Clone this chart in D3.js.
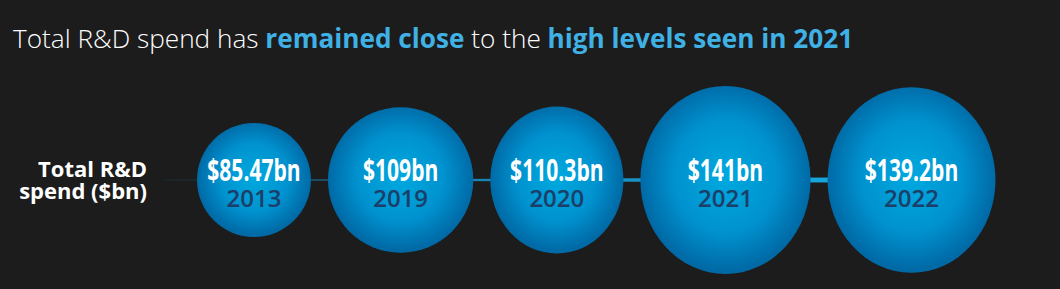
<!DOCTYPE html>
<html>
<head>
<meta charset="utf-8">
<script src="https://cdn.jsdelivr.net/npm/d3@7"></script>
<style>
	html, body { margin:0; padding:0; background:#1c1c1c; }
	svg { display:block; }
</style>
</head>
<body>
<svg id="chart"></svg>
<script>
// data
const years = ['2013','2019','2020','2021','2022'];
const spend = [85.47, 109, 110.3, 141, 139.2]; // $bn
const valueLabels = ['$85.47bn','$109bn','$110.3bn','$141bn','$139.2bn'];
const rowLabel = ['Total R&D','spend ($bn)'];
const titleParts = [
	{text:'Total R&D spend has ', hi:false},
	{text:'remained close', hi:true},
	{text:' to the ', hi:false},
	{text:'high levels seen in 2021', hi:true}
];

// configure chart
const width = 1060;
const height = 289;
const cy = 180; // centre line of the bubbles
const gap = 17; // space between bubbles
const startX = 197;
// the last three bubbles are drawn a little narrow in the original
const stretchX = [1, 1, 0.905, 0.905, 0.905];

const svg = d3.select('#chart').attr('width',width).attr('height',height);
const defs = svg.append('defs');

// bubble fill: bright centre fading to a darker rim
let bubbleGrad = defs.append('radialGradient').attr('id','bubble')
	.attr('cx','50%').attr('cy','48%').attr('r','50%');
bubbleGrad.append('stop').attr('offset','0%').attr('stop-color','#00a9df');
bubbleGrad.append('stop').attr('offset','60%').attr('stop-color','#0092cf');
bubbleGrad.append('stop').attr('offset','100%').attr('stop-color','#006aa6');

// connecting line gets brighter to the right
let lineGrad = defs.append('linearGradient').attr('id','lineGrad')
	.attr('x1','0%').attr('x2','100%');
lineGrad.append('stop').attr('offset','0%').attr('stop-color','#1f3540');
lineGrad.append('stop').attr('offset','35%').attr('stop-color','#1a7fad');
lineGrad.append('stop').attr('offset','100%').attr('stop-color','#16aee6');

// radius scale, proportional to the value
const r = d3.scaleLinear().domain([0, d3.max(spend)]).range([0, 94]);

// lay bubbles out left to right
let bubbles = [];
let x = startX;
spend.forEach((v,i) => {
	let ry = r(v), rx = ry*stretchX[i];
	bubbles.push({year:years[i], value:v, label:valueLabels[i], cx:x+rx, rx:rx, ry:ry});
	x += 2*rx + gap;
});

// title
let title = svg.append('text').attr('x',13).attr('y',48)
	.style('font-family','"Open Sans", sans-serif').style('font-size','26.2px');
title.selectAll('tspan').data(titleParts).enter().append('tspan')
	.attr('fill', d => d.hi ? '#3fb1e4' : '#ffffff')
	.style('font-weight', d => d.hi ? 700 : 300)
	.text(d => d.text);

// row label
svg.append('text').attr('text-anchor','end')
	.style('font-family','"Open Sans", sans-serif').style('font-size','22px')
	.style('font-weight',700).attr('fill','#ffffff')
	.selectAll('tspan').data(rowLabel).enter().append('tspan')
	.attr('x',147).attr('y',(d,i) => 177 + i*22).text(d => d);

// tapered connecting line
let lineStart = 165, lineEnd = bubbles[4].cx;
let thick = d3.scaleLinear().domain([lineStart, lineEnd]).range([0.3, 5.5]);
svg.append('path').attr('fill','url(#lineGrad)')
	.attr('d', d3.area().x(d => d).y0(d => cy - thick(d)/2).y1(d => cy + thick(d)/2)([lineStart, lineEnd]));

// bubbles
let g = svg.selectAll('g.bubble').data(bubbles).enter().append('g').attr('class','bubble');
g.append('ellipse').attr('cx', d => d.cx).attr('cy', cy)
	.attr('rx', d => d.rx).attr('ry', d => d.ry).attr('fill','url(#bubble)');
// value, condensed bold
g.append('text')
	.attr('transform', d => 'translate(' + d.cx + ',' + (cy + 1) + ') scale(0.68,1)')
	.attr('text-anchor','middle').attr('fill','#ffffff')
	.style('font-family','"Open Sans", sans-serif').style('font-size','31px').style('font-weight',700)
	.text(d => d.label);
// year
g.append('text').attr('x', d => d.cx).attr('y', cy + 27)
	.attr('text-anchor','middle').attr('fill','#1c3f69')
	.style('font-family','"Open Sans", sans-serif').style('font-size','24px').style('font-weight',600)
	.text(d => d.year);
</script>
</body>
</html>
